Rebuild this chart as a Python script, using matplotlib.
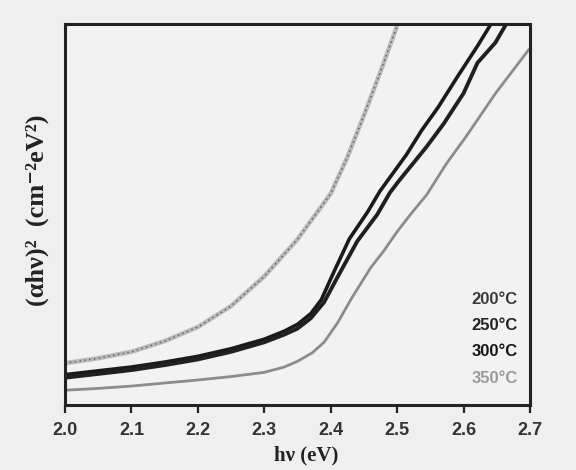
import matplotlib.pyplot as plt
import matplotlib as mpl

# photon energy (eV) and (alpha h nu)^2 in arbitrary units
e_200 = [2.00, 2.05, 2.10, 2.15, 2.20, 2.25, 2.30, 2.35, 2.40, 2.425, 2.45, 2.475, 2.50]
a_200 = [11.0, 12.3, 14.0, 16.8, 20.5, 26.0, 33.8, 43.5, 55.5, 65.0, 76.0, 87.5, 99.5]

e_250 = [2.00, 2.05, 2.10, 2.15, 2.20, 2.25, 2.30, 2.33, 2.35, 2.37, 2.386, 2.402,
         2.428, 2.456, 2.474, 2.514, 2.537, 2.562, 2.591, 2.621, 2.640]
a_250 = [8.0, 9.0, 10.0, 11.3, 12.8, 14.8, 17.3, 19.4, 21.2, 24.0, 27.7, 33.9,
         43.6, 50.8, 56.1, 65.7, 72.1, 78.2, 86.2, 94.2, 99.6]

e_300 = [2.00, 2.05, 2.10, 2.15, 2.20, 2.25, 2.30, 2.33, 2.35, 2.37, 2.39, 2.41,
         2.44, 2.47, 2.489, 2.503, 2.544, 2.570, 2.600, 2.621, 2.648, 2.663]
a_300 = [7.2, 8.2, 9.2, 10.5, 12.0, 14.0, 16.5, 18.5, 20.1, 22.8, 27.0, 33.5,
         43.0, 50.0, 55.7, 58.9, 67.7, 73.8, 81.8, 89.8, 95.1, 99.6]

e_350 = [2.00, 2.05, 2.10, 2.15, 2.20, 2.25, 2.30, 2.33, 2.35, 2.372, 2.39, 2.41,
         2.431, 2.46, 2.48, 2.50, 2.52, 2.545, 2.574, 2.604, 2.649, 2.698]
a_350 = [3.9, 4.4, 5.0, 5.8, 6.6, 7.5, 8.6, 10.0, 11.5, 13.7, 16.5, 21.5,
         27.9, 36.0, 40.5, 45.5, 50.0, 55.3, 63.3, 70.5, 82.0, 93.2]

labels = ["200°C", "250°C", "300°C", "350°C"]
label_colors = ["#3a3a3a", "#222222", "#151515", "#9a9a9a"]
x_ticks = [2.0, 2.1, 2.2, 2.3, 2.4, 2.5, 2.6, 2.7]

paper = "#efefef"
fig = plt.figure(figsize=(5.76, 4.70), dpi=100, facecolor=paper)
ax = fig.add_axes([0.113, 0.138, 0.807, 0.811], facecolor="#f2f2f2")

# 200 C: light grey trace with a dark dotted core
ax.plot(e_200, a_200, color="#b8b8b8", lw=3.2, solid_capstyle="butt")
ax.plot(e_200, a_200, color="#555555", lw=1.0, linestyle=(0, (1, 2.5)))
ax.plot(e_250, a_250, color="#1a1a1a", lw=2.6)
ax.plot(e_300, a_300, color="#202020", lw=2.8)
ax.plot(e_350, a_350, color="#8c8c8c", lw=2.0)

ax.set_xlim(2.0, 2.7)
ax.set_ylim(0, 100)
ax.set_yticks([])
ax.set_xticks(x_ticks)
ax.set_xticklabels([f"{t:.1f}" for t in x_ticks], family="Liberation Sans",
                   fontweight="bold", fontsize=13, color="#333333")
ax.tick_params(axis="x", direction="out", length=6, width=1.6, pad=6, color="#222222")
for s in ax.spines.values():
    s.set_linewidth(2.2)
    s.set_color("#222222")

for i, (lab, col) in enumerate(zip(labels, label_colors)):
    ax.text(0.974, 0.278 - i * 0.069, lab, transform=ax.transAxes, ha="right",
            va="center", family="Liberation Sans", fontweight="bold",
            fontsize=12, color=col)

ax.set_xlabel("hν (eV)", family=["Liberation Serif", "DejaVu Serif"],
              fontweight="bold", fontsize=15, color="#222222")
ax.xaxis.set_label_coords(0.518, -0.105)
ax.set_ylabel("(αhν)²  (cm⁻²eV²)", family=["Liberation Serif", "DejaVu Serif"],
              fontweight="bold", fontsize=19, color="#222222")
ax.yaxis.set_label_coords(-0.034, 0.51)

fig.savefig("out.png", dpi=100, facecolor=paper)
